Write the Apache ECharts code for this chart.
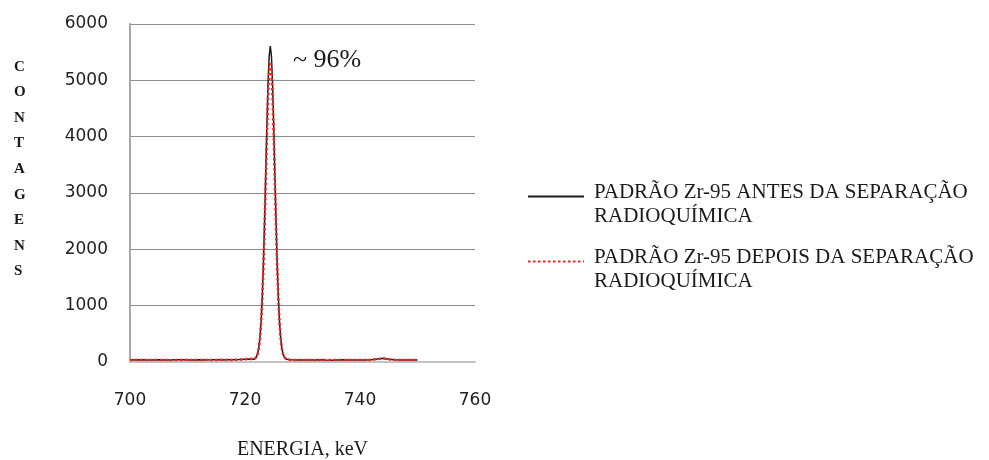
<!DOCTYPE html>
<html>
<head>
<meta charset="utf-8">
<script src="https://cdn.jsdelivr.net/npm/echarts@6/dist/echarts.min.js"></script>
<style>
  html, body { margin: 0; padding: 0; background: #fff; }
  #chart { width: 989px; height: 460px; }
</style>
</head>
<body>
<div id="chart"></div>
<script>
// Gamma spectrum of the Zr-95 standard, before and after radiochemical separation
const energies = [
  700, 701, 702, 703, 704, 705, 706, 707, 708, 709, 710,
  711, 712, 713, 714, 715, 716, 717, 718, 719, 720, 721,
  721.6, 721.8, 722.0, 722.2, 722.4, 722.6, 722.8, 723.0, 723.2, 723.4,
  723.6, 723.8, 724.0, 724.2, 724.4, 724.6, 724.8, 725.0, 725.2, 725.4,
  725.6, 725.8, 726.0, 726.2, 726.4, 726.6, 726.8, 727.0, 727.2,
  728, 729, 730, 731, 732, 733, 734, 735, 736, 737, 738, 739,
  740, 741, 742, 743, 744, 745, 746, 747, 748, 749, 750
];

const countsBefore = [
  38, 36, 40, 35, 37, 39, 34, 36, 41, 38, 35,
  37, 40, 36, 38, 42, 37, 39, 41, 44, 48, 52,
  50, 60, 94, 150, 255, 430, 725, 1150, 1752, 2485,
  3335, 4176, 4925, 5420, 5610, 5428, 4918, 4185, 3326, 2494,
  1745, 1158, 720, 436, 250, 148, 95, 60, 48,
  38, 35, 37, 34, 36, 39, 35, 33, 36, 38, 34, 37,
  36, 35, 38, 52, 66, 50, 40, 36, 35, 36, 34
];

const countsAfter = [
  34, 38, 35, 37, 34, 36, 38, 33, 37, 35, 39,
  34, 36, 38, 35, 37, 40, 36, 38, 42, 50, 56,
  45, 55, 88, 140, 238, 410, 688, 1098, 1660, 2365,
  3165, 3972, 4675, 5150, 5330, 5160, 4680, 3975, 3170, 2370,
  1665, 1100, 690, 415, 240, 142, 90, 58, 46,
  36, 34, 38, 35, 33, 37, 36, 34, 38, 35, 36, 34,
  37, 35, 39, 50, 62, 48, 38, 35, 36, 34, 35
];

const seriesNames = [
  'PADRÃO Zr-95 ANTES DA SEPARAÇÃO\nRADIOQUÍMICA',
  'PADRÃO Zr-95 DEPOIS DA SEPARAÇÃO\nRADIOQUÍMICA'
];

const xTicks = { min: 700, max: 760, interval: 20 };
const yTicks = { min: 0, max: 6000, interval: 1000 };
const yTitleLetters = 'CONTAGENS';
const peakNote = '~ 96%';

const pairs = (xs, ys) => xs.map((x, i) => [x, ys[i]]);

// Legend entries: a short spacer line above the name keeps the key line
// level with the first line of the two-line label.
const legendLabel = name => '{s|}\n' + name.split('\n').map(l => '{t|' + l + '}').join('\n');

const chart = echarts.init(document.getElementById('chart'), null, { renderer: 'canvas' });

chart.setOption({
  backgroundColor: '#ffffff',
  animation: false,
  grid: { left: 130, right: 514, top: 24, bottom: 98, containLabel: false, outerBoundsMode: 'none' },
  xAxis: {
    type: 'value',
    min: xTicks.min, max: xTicks.max, interval: xTicks.interval,
    axisLine: { show: true, lineStyle: { color: '#c4c4c4', width: 2 } },
    axisTick: { show: false },
    splitLine: { show: false },
    axisLabel: { margin: 30, color: '#222', fontFamily: 'DejaVu Sans', fontSize: 17 },
    name: 'ENERGIA, keV',
    nameLocation: 'middle',
    nameGap: 78,
    nameTextStyle: { fontFamily: 'Liberation Serif', fontSize: 20, color: '#1a1a1a' }
  },
  yAxis: {
    type: 'value',
    min: yTicks.min, max: yTicks.max, interval: yTicks.interval,
    axisLine: { show: true, lineStyle: { color: '#a8a8a8', width: 2 } },
    axisTick: { show: false },
    splitLine: { show: true, lineStyle: { color: '#8c8c8c', width: 1 } },
    axisLabel: {
      margin: 22, color: '#222', fontFamily: 'DejaVu Sans', fontSize: 17,
      formatter: v => String(v)
    }
  },
  legend: {
    orient: 'vertical',
    left: 527,
    top: 162,
    padding: 0,
    itemWidth: 56,
    itemHeight: 14,
    itemGap: 0,
    itemStyle: { opacity: 0 },
    formatter: legendLabel,
    textStyle: {
      fontFamily: 'Liberation Serif',
      fontSize: 21,
      color: '#1a1a1a',
      rich: {
        s: { lineHeight: 16, height: 16 },
        t: { fontFamily: 'Liberation Serif', fontSize: 21, lineHeight: 24, color: '#1a1a1a', padding: [0, 0, 0, 5] }
      }
    },
    data: seriesNames
  },
  graphic: [
    {
      type: 'text',
      left: 14,
      top: 54,
      style: {
        text: yTitleLetters.split('').join('\n'),
        font: 'bold 15px "Liberation Serif"',
        lineHeight: 25.6,
        align: 'center',
        fill: '#1a1a1a'
      }
    },
    {
      type: 'text',
      left: 293,
      top: 47,
      style: {
        text: peakNote,
        font: '26px "Liberation Serif"',
        fill: '#1a1a1a'
      }
    }
  ],
  series: [
    {
      name: seriesNames[0],
      type: 'line',
      data: pairs(energies, countsBefore),
      symbol: 'none',
      lineStyle: { color: '#1c1c1c', width: 1.5 },
      itemStyle: { color: '#1c1c1c' },
      z: 2
    },
    {
      name: seriesNames[1],
      type: 'line',
      data: pairs(energies, countsAfter),
      symbol: 'none',
      lineStyle: { color: '#ff2020', width: 2.5, type: [2.5, 2.5] },
      itemStyle: { color: '#ff2020' },
      z: 3
    }
  ]
});
</script>
</body>
</html>
